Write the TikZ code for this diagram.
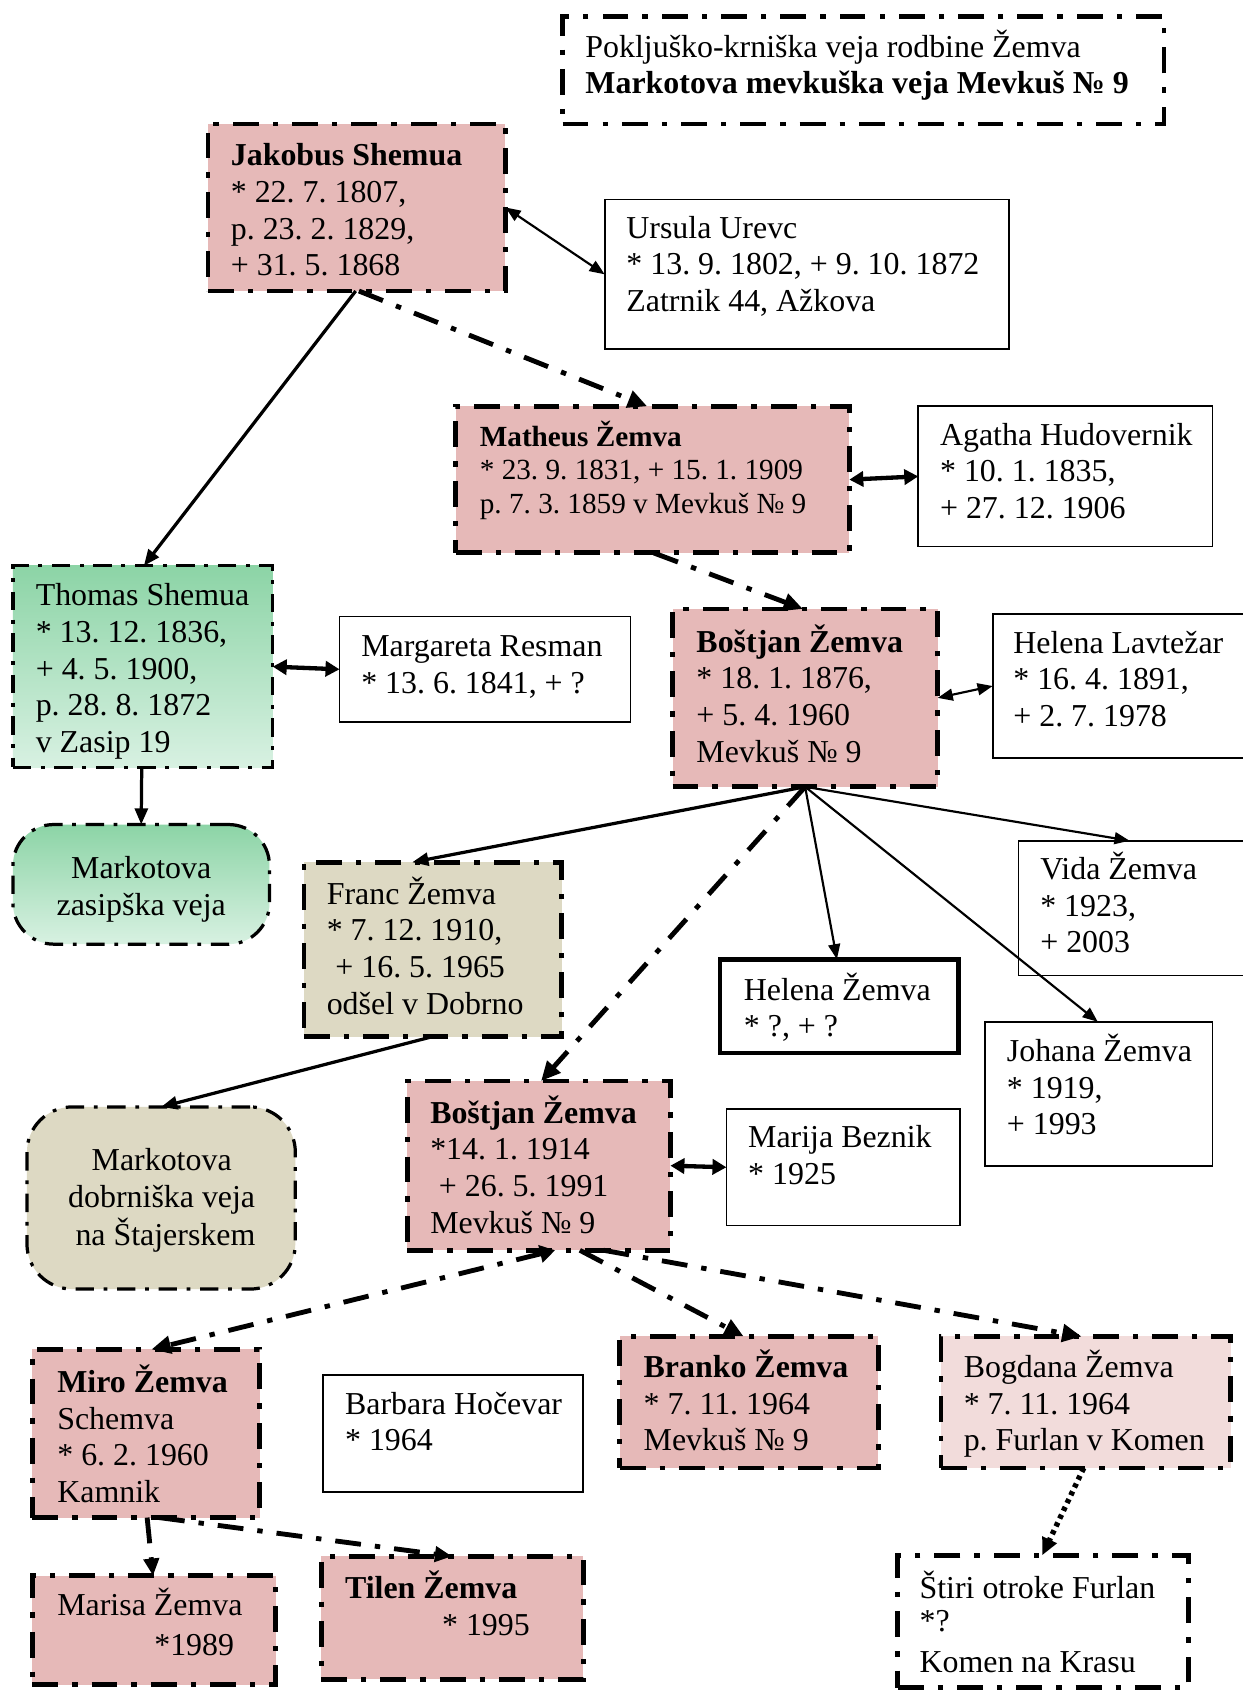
\documentclass[tikz,border=0pt]{standalone}
\usepackage{fontspec}
\setmainfont{Liberation Serif}
\usetikzlibrary{arrows.meta}
\definecolor{pinkbox}{RGB}{230,185,184}
\definecolor{lightpink}{RGB}{242,220,219}
\definecolor{beigebox}{RGB}{221,217,195}
\definecolor{greentop}{RGB}{140,212,166}
\definecolor{greenbot}{RGB}{216,241,226}
\newcommand\fs{\fontsize{29.6pt}{34pt}\selectfont\frenchspacing}
\newcommand\fsm{\fontsize{27.1pt}{31.2pt}\selectfont\frenchspacing}
\newcommand\tl[1]{\begin{tabular}[t]{@{}l@{}}#1\end{tabular}}
\newcommand\tc[1]{\begin{tabular}[t]{@{}c@{}}#1\end{tabular}}
\frenchspacing
\begin{document}
\begin{tikzpicture}[x=1pt,y=-1pt,
  boxbase/.style={rectangle, inner sep=0pt, outer sep=0pt},
  ddthick/.style={line width=4.5pt, dash pattern=on 24pt off 13pt on 5pt off 13pt},
  ddthin/.style={line width=3pt, dash pattern=on 17pt off 9pt on 3.5pt off 9pt},
  pinkperson/.style={boxbase, draw, ddthick, fill=pinkbox},
  spouse/.style={boxbase, draw, line width=1.6pt, fill=white},
  tx/.style={anchor=base west, inner sep=0pt, font=\fs},
  tcx/.style={anchor=base, inner sep=0pt, font=\fs},
  thinarr/.style={line width=2pt, -{Triangle[length=14pt,width=11pt]}},
  midarr/.style={line width=3pt, -{Triangle[length=15pt,width=12pt]}},
  thinboth/.style={line width=2pt, {Triangle[length=14pt,width=11pt]}-{Triangle[length=14pt,width=11pt]}},
  thickboth/.style={line width=4pt, {Triangle[length=13pt,width=14pt]}-{Triangle[length=13pt,width=14pt]}},
  ddarr/.style={ddthick, -{Triangle[length=18pt,width=16pt]}},
  ddarrthin/.style={ddthick, -{Triangle[length=16pt,width=14pt]}},
  dotarr/.style={line width=5pt, dash pattern=on 4pt off 4pt, -{Triangle[length=16pt,width=14pt]}},
]
\fill[white] (0,0) rectangle (1153,1568);
\useasboundingbox (0,0) rectangle (1153,1568);

% ---------- boxes ----------
\node[boxbase, draw, ddthick, fill=white, minimum width=558pt, minimum height=100pt] (title) at (801,65) {};
\node[pinkperson, minimum width=276pt, minimum height=155pt] (jak) at (331,192.5) {};
\node[spouse, minimum width=375pt, minimum height=139pt] (urs) at (748.5,254.5) {};
\node[pinkperson, minimum width=365pt, minimum height=136pt] (mat) at (605.5,445) {};
\node[spouse, minimum width=273pt, minimum height=130pt] (aga) at (988.5,442) {};
\node[boxbase, draw, ddthin, top color=greentop, bottom color=greenbot, minimum width=241pt, minimum height=187pt] (tho) at (132.5,618.5) {};
\node[spouse, minimum width=270pt, minimum height=98pt] (mar) at (450,621) {};
\node[boxbase, draw, ddthin, rounded corners=38pt, top color=greentop, bottom color=greenbot, minimum width=238pt, minimum height=111pt] (zas) at (131,820.5) {};
\node[pinkperson, minimum width=246pt, minimum height=165pt] (b76) at (747,647.5) {};
\node[spouse, minimum width=250pt, minimum height=133pt] (hel) at (1046,636.5) {};
\node[boxbase, draw, ddthick, fill=beigebox, minimum width=239pt, minimum height=162pt] (fra) at (401.5,881) {};
\node[boxbase, draw, line width=4.5pt, fill=white, minimum width=221pt, minimum height=87pt] (hez) at (778.5,933.5) {};
\node[spouse, minimum width=225pt, minimum height=125pt] (vid) at (1057.5,842.5) {};
\node[spouse, minimum width=211pt, minimum height=134pt] (joh) at (1019.5,1015) {};
\node[boxbase, draw, ddthin, rounded corners=42pt, fill=beigebox, minimum width=249pt, minimum height=169pt] (dob) at (149.5,1111.5) {};
\node[pinkperson, minimum width=244pt, minimum height=157pt] (b14) at (500,1081.5) {};
\node[spouse, minimum width=217pt, minimum height=108pt] (mrj) at (782.5,1083) {};
\node[pinkperson, minimum width=211pt, minimum height=156pt] (mir) at (135.5,1330) {};
\node[spouse, minimum width=241pt, minimum height=108pt] (bar) at (420.5,1330) {};
\node[pinkperson, minimum width=240pt, minimum height=122pt] (bra) at (695,1301) {};
\node[boxbase, draw, ddthick, fill=lightpink, minimum width=269pt, minimum height=122pt] (bog) at (1007.5,1301) {};
\node[boxbase, draw, ddthick, fill=white, minimum width=270pt, minimum height=123pt] (sti) at (968,1504.5) {};
\node[pinkperson, minimum width=226pt, minimum height=101pt] (mas) at (143,1512.5) {};
\node[pinkperson, minimum width=243pt, minimum height=114pt] (til) at (419.5,1501) {};

% ---------- texts ----------
\node[tx] (titleT) at (543,53) {\tl{Pokljuško-krniška veja rodbine Žemva\\ \textbf{Markotova mevkuška veja Mevkuš № 9}}};
\node[tx] (jakT) at (214,154) {\tl{\textbf{Jakobus Shemua}\\{}* 22. 7. 1807,\\p. 23. 2. 1829,\\+ 31. 5. 1868}};
\node[tx] (ursT) at (581,221) {\tl{Ursula Urevc\\{}* 13. 9. 1802, + 9. 10. 1872\\Zatrnik 44, Ažkova}};
\node[tx, font=\fsm] (matT) at (445,414) {\tl{\textbf{Matheus Žemva}\\{}* 23. 9. 1831, + 15. 1. 1909\\p. 7. 3. 1859 v Mevkuš № 9}};
\node[tx] (agaT) at (872,413) {\tl{Agatha Hudovernik\\{}* 10. 1. 1835,\\+ 27. 12. 1906}};
\node[tx] (thoT) at (33,562) {\tl{Thomas Shemua\\{}* 13. 12. 1836,\\+ 4. 5. 1900,\\p. 28. 8. 1872\\v Zasip 19}};
\node[tx] (marT) at (335,609) {\tl{Margareta Resman\\{}* 13. 6. 1841, + ?}};
\node[tcx] (zasT) at (131,815) {\tc{Markotova\\zasipška veja}};
\node[tx] (b76T) at (646,605) {\tl{\textbf{Boštjan Žemva}\\{}* 18. 1. 1876,\\+ 5. 4. 1960\\Mevkuš № 9}};
\node[tx] (helT) at (940,606) {\tl{Helena Lavtežar\\{}* 16. 4. 1891,\\+ 2. 7. 1978}};
\node[tx] (fraT) at (303,839) {\tl{Franc Žemva\\{}* 7. 12. 1910,\\\hspace{8pt}+ 16. 5. 1965\\odšel v Dobrno}};
\node[tx] (hezT) at (690,928) {\tl{Helena Žemva\\{}* ?, + ?}};
\node[tx] (vidT) at (965,816) {\tl{Vida Žemva\\{}* 1923,\\+ 2003}};
\node[tx] (johT) at (934,985) {\tl{Johana Žemva\\{}* 1919,\\+ 1993}};
\node[tcx] (dobT) at (150,1086) {\tc{Markotova\\dobrniška veja\\\hspace{7pt}na Štajerskem}};
\node[tx] (b14T) at (399,1042) {\tl{\textbf{Boštjan Žemva}\\{}*14. 1. 1914\\\hspace{8pt}+ 26. 5. 1991\\Mevkuš № 9}};
\node[tx] (mrjT) at (694,1065) {\tl{Marija Beznik\\{}* 1925}};
\node[tx] (mirT) at (53,1292) {\tl{\textbf{Miro Žemva}\\Schemva\\{}* 6. 2. 1960\\Kamnik}};
\node[tx] (barT) at (320,1312) {\tl{Barbara Hočevar\\{}* 1964}};
\node[tx] (braT) at (597,1278) {\tl{\textbf{Branko Žemva}\\{}* 7. 11. 1964\\Mevkuš № 9}};
\node[tx] (bogT) at (894,1278) {\tl{Bogdana Žemva\\{}* 7. 11. 1964\\p. Furlan v Komen}};
\node[tx] (stiT) at (853,1483) {\tl{Štiri otroke Furlan\\[-3pt]{}*?\\[4pt]Komen na Krasu}};
\node[tx] (masT) at (53,1499) {\tl{Marisa Žemva\\[3pt]\hspace{90pt}*1989}};
\node[tx] (tilT) at (320,1483) {\tl{\textbf{Tilen Žemva}\\\hspace{90pt}* 1995}};

% ---------- connectors ----------
\draw[thinboth] (jak.east) -- (urs.west);
\draw[ddarr] ([xshift=2pt]jak.south) -- ([xshift=-5pt]mat.north);
\draw[midarr] ([xshift=-1pt]jak.south) -- ([xshift=1pt]tho.north);
\draw[thickboth] (mat.east) -- (aga.west);
\draw[ddarr] ([xshift=1pt]mat.south) -- ([xshift=-2pt]b76.north);
\draw[thickboth] (tho.east) -- (mar.west);
\draw[midarr] ([xshift=-1pt]tho.south) -- (zas.north);
\draw[thinboth] (b76.east) -- (hel.west);
\draw[midarr] (b76.south) -- ([xshift=-19pt]fra.north);
\draw[thinarr] (b76.south) -- ([xshift=-2pt]hez.north);
\draw[thinarr] (b76.south) -- ([xshift=-9.5pt]vid.north);
\draw[thinarr] (b76.south) -- ([xshift=-1pt]joh.north);
\draw[ddarr] (b76.south) -- ([xshift=2pt]b14.north);
\draw[midarr] ([xshift=-1pt]fra.south) -- (dob.north);
\draw[thickboth] (b14.east) -- (mrj.west);
\draw[ddthick, {Triangle[length=14pt,width=16pt]}-{Triangle[length=18pt,width=16pt]}] ([xshift=15pt]b14.south) -- ([xshift=5pt]mir.north);
\draw[ddarr] ([xshift=38pt]b14.south) -- ([xshift=-5pt]bra.north);
\draw[ddarr] ([xshift=60pt]b14.south) -- ([xshift=-4pt]bog.north);
\draw[dotarr] ([xshift=-2pt]bog.south) -- ([xshift=-1pt]sti.north);
\draw[ddarrthin] ([xshift=1pt]mir.south) -- ([xshift=-1pt]mas.north);
\draw[ddarrthin] ([xshift=12pt]mir.south) -- (til.north);
\end{tikzpicture}
\end{document}
